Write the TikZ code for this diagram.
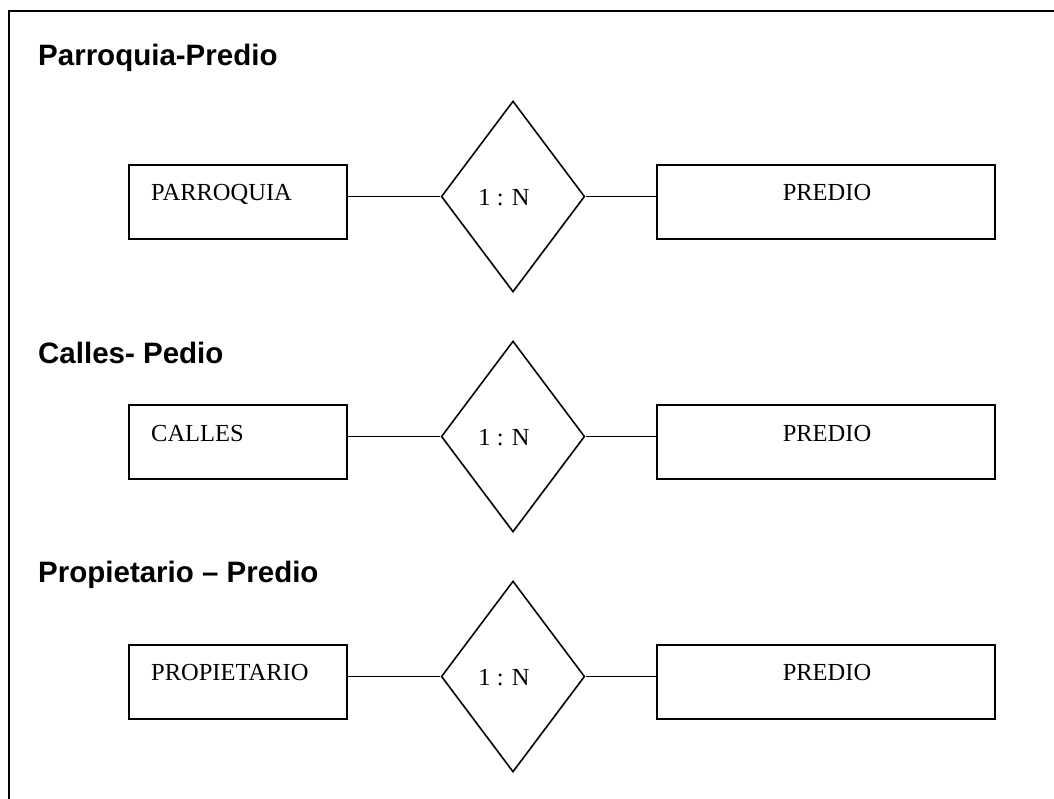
\documentclass[tikz,border=0pt]{standalone}
\usepackage{fontspec}
\setmainfont{Liberation Serif}
\newfontfamily\headfont{Liberation Sans}
\usetikzlibrary{shapes.geometric}
\begin{document}
\begin{tikzpicture}[x=1pt,y=-1pt,
  frame/.style={line width=2.2pt},
  heading/.style={anchor=base west,inner sep=0pt,font=\headfont\bfseries\fontsize{29.5}{35}\selectfont},
  entity/.style={draw,line width=2pt,minimum height=74pt,inner sep=0pt},
  leftentity/.style={entity,minimum width=218pt},
  rightentity/.style={entity,minimum width=338pt},
  relation/.style={draw,diamond,line width=1.6pt,minimum width=143.5pt,minimum height=191pt,inner sep=0pt},
  label/.style={inner sep=0pt,font=\fontsize{24.5}{29}\selectfont},
  link/.style={line width=1.9pt}]
\useasboundingbox (0,0) rectangle (1054,799);

% open frame: top and left edges only
\draw[frame] (1060,11) -- (9,11) -- (9,805);

% ---- Parroquia - Predio ----
\node[heading] (h1) at (38,66) {Parroquia-Predio};
\node[leftentity] (e1a) at (238,202) {};
\node[label,anchor=base west] (l1a) at (151,201) {PARROQUIA};
\node[relation] (r1) at (513,196.5) {};
\node[label,anchor=base] (c1) at (504,206) {1 : N};
\node[rightentity] (e1b) at (826,202) {};
\node[label,anchor=base] (l1b) at (827,201) {PREDIO};
\draw[link] (r1.west) -- ([xshift=-2pt]r1.west -| e1a.east);
\draw[link] (r1.east) -- (r1.east -| e1b.west);

% ---- Calles - Predio ----
\node[heading] (h2) at (38,363) {Calles- Pedio};
\node[leftentity] (e2a) at (238,442) {};
\node[label,anchor=base west] (l2a) at (151,441) {CALLES};
\node[relation] (r2) at (513,436.5) {};
\node[label,anchor=base] (c2) at (504,445.5) {1 : N};
\node[rightentity] (e2b) at (826,442) {};
\node[label,anchor=base] (l2b) at (827,441) {PREDIO};
\draw[link] (r2.west) -- ([xshift=-2pt]r2.west -| e2a.east);
\draw[link] (r2.east) -- (r2.east -| e2b.west);

% ---- Propietario - Predio ----
\node[heading] (h3) at (38,582) {Propietario – Predio};
\node[leftentity] (e3a) at (238,682) {};
\node[label,anchor=base west] (l3a) at (151,680) {PROPIETARIO};
\node[relation] (r3) at (513,676.5) {};
\node[label,anchor=base] (c3) at (504,685) {1 : N};
\node[rightentity] (e3b) at (826,682) {};
\node[label,anchor=base] (l3b) at (827,680) {PREDIO};
\draw[link] (r3.west) -- ([xshift=-2pt]r3.west -| e3a.east);
\draw[link] (r3.east) -- (r3.east -| e3b.west);
\end{tikzpicture}
\end{document}
